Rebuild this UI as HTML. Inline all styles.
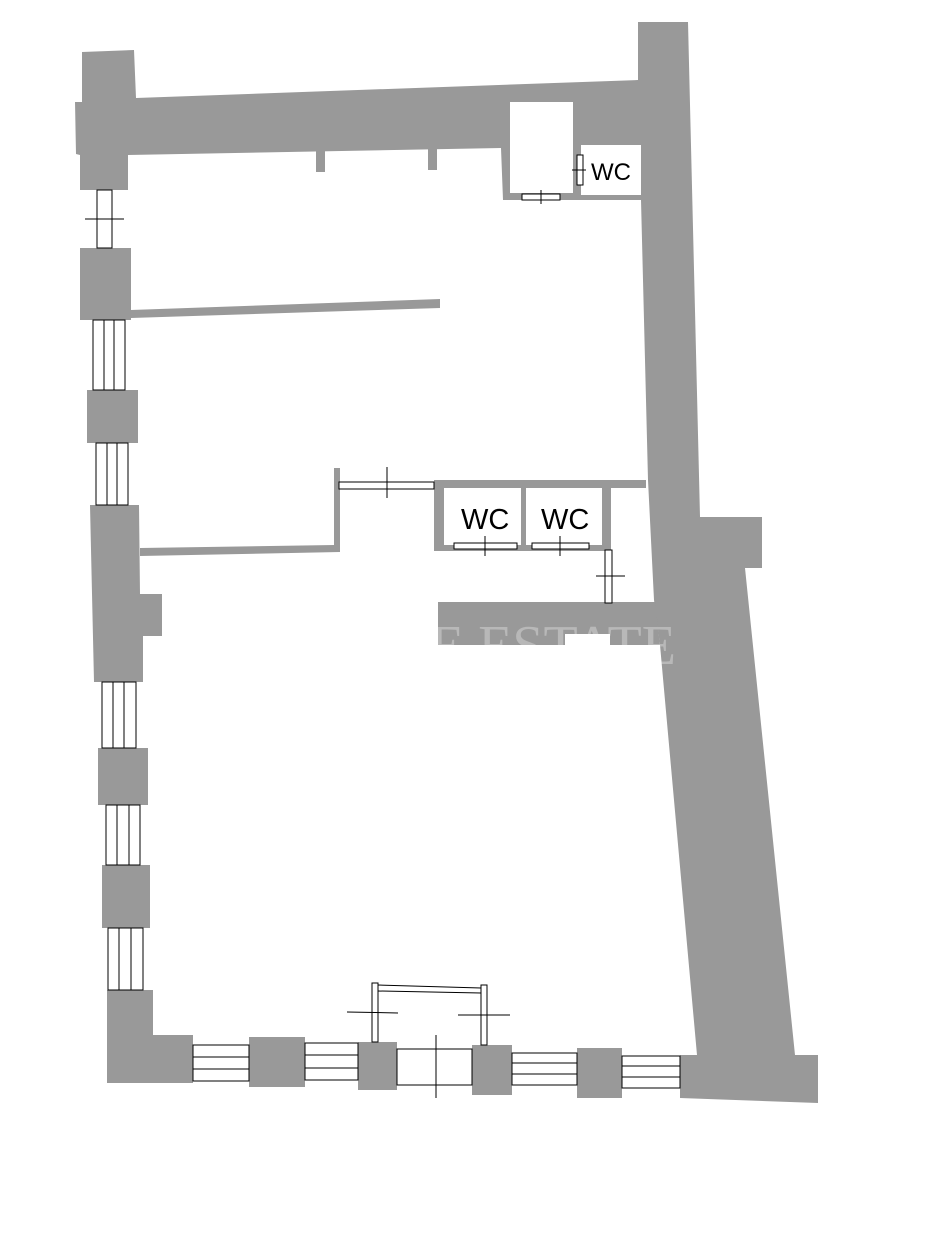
<!DOCTYPE html>
<html><head><style>html,body{margin:0;padding:0;background:#fff}svg{display:block}</style></head>
<body>
<svg width="943" height="1250" viewBox="0 0 943 1250" xmlns="http://www.w3.org/2000/svg">
<g fill="#999999">
<polygon points="82,52 134,50 136,98 638,80 638,22 688,22 700,517 762,517 762,568 745,568 795,1055 818,1055 818,1103 680,1098 680,1055 697,1055 660,645 654,600 648,480 641,200 503,200 501,148 128,155 128,190 80,190 80,155 76,154 75,102 82,102"/>
<rect x="316" y="150" width="9" height="22"/>
<rect x="428" y="148" width="9" height="22"/>
<rect x="80" y="248" width="51" height="72"/>
<polygon points="131,310 440,299 440,308 131,318"/>
<rect x="87" y="390" width="51" height="53"/>
<polygon points="90,505 139,505 140,594 162,594 162,636 143,636 143,682 94,682"/>
<polygon points="140,548 334,545 334,468 340,468 340,552 140,556"/>
<rect x="98" y="748" width="50" height="57"/>
<rect x="102" y="865" width="48" height="63"/>
<polygon points="107,990 153,990 153,1035 193,1035 193,1083 107,1083"/>
<rect x="249" y="1037" width="56" height="50"/>
<rect x="358" y="1042" width="39" height="48"/>
<rect x="472" y="1045" width="40" height="50"/>
<rect x="577" y="1048" width="45" height="50"/>
<rect x="434" y="480" width="212" height="8"/>
<rect x="434" y="480" width="10" height="71"/>
<rect x="434" y="545" width="177" height="6"/>
<rect x="521" y="488" width="5" height="60"/>
<rect x="602" y="488" width="9" height="63"/>
<polygon points="438,602 655,602 660,645 610,645 610,634 565,634 565,645 438,645"/>
</g>
<rect x="510" y="102" width="63" height="91" fill="#fff"/>
<rect x="581" y="145" width="60" height="50" fill="#fff"/>
<text x="591" y="180" font-family="Liberation Sans, sans-serif" font-size="24" fill="#000">WC</text>
<text x="461" y="529" font-family="Liberation Sans, sans-serif" font-size="29" fill="#000">WC</text>
<text x="541" y="529" font-family="Liberation Sans, sans-serif" font-size="29" fill="#000">WC</text>
<text x="430" y="664" font-family="Liberation Serif, serif" font-size="56" fill="#ffffff" opacity="0.3">E ESTATE</text>
<g fill="#fff" stroke="#000" stroke-width="1">
<rect x="522" y="194" width="38" height="6"/>
<rect x="577" y="155" width="6" height="30"/>
<rect x="339" y="482" width="95" height="7"/>
<rect x="454" y="543" width="63" height="6"/>
<rect x="532" y="543" width="57" height="6"/>
<rect x="605" y="550" width="7" height="53"/>
<rect x="97" y="190" width="15" height="58"/>
<rect x="93" y="320" width="32" height="70"/>
<rect x="96" y="443" width="32" height="62"/>
<rect x="102" y="682" width="34" height="66"/>
<rect x="106" y="805" width="34" height="60"/>
<rect x="108" y="928" width="35" height="62"/>
<rect x="193" y="1045" width="56" height="36"/>
<rect x="305" y="1043" width="53" height="37"/>
<rect x="397" y="1049" width="75" height="36"/>
<rect x="512" y="1053" width="65" height="32"/>
<rect x="622" y="1056" width="58" height="32"/>
<rect x="372" y="983" width="6" height="59"/>
<rect x="481" y="985" width="6" height="60"/>
</g>
<g stroke="#000" stroke-width="1" fill="none">
<line x1="378" y1="985" x2="481" y2="988"/>
<line x1="378" y1="991" x2="481" y2="993"/>
<line x1="85" y1="219" x2="124" y2="219"/>
<line x1="104" y1="320" x2="104" y2="390"/><line x1="114" y1="320" x2="114" y2="390"/>
<line x1="107" y1="443" x2="107" y2="505"/><line x1="117" y1="443" x2="117" y2="505"/>
<line x1="113" y1="682" x2="113" y2="748"/><line x1="124" y1="682" x2="124" y2="748"/>
<line x1="117" y1="805" x2="117" y2="865"/><line x1="129" y1="805" x2="129" y2="865"/>
<line x1="119" y1="928" x2="119" y2="990"/><line x1="131" y1="928" x2="131" y2="990"/>
<line x1="193" y1="1057" x2="249" y2="1057"/><line x1="193" y1="1069" x2="249" y2="1069"/>
<line x1="305" y1="1055" x2="358" y2="1055"/><line x1="305" y1="1068" x2="358" y2="1068"/>
<line x1="512" y1="1063" x2="577" y2="1063"/><line x1="512" y1="1074" x2="577" y2="1074"/>
<line x1="622" y1="1066" x2="680" y2="1066"/><line x1="622" y1="1077" x2="680" y2="1077"/>
<line x1="436" y1="1035" x2="436" y2="1098"/>
<line x1="347" y1="1012" x2="398" y2="1013"/>
<line x1="458" y1="1015" x2="510" y2="1015"/>
<line x1="387" y1="467" x2="387" y2="498"/>
<line x1="485" y1="536" x2="485" y2="556"/>
<line x1="560" y1="536" x2="560" y2="556"/>
<line x1="596" y1="576" x2="625" y2="576"/>
<line x1="541" y1="190" x2="541" y2="204"/>
<line x1="572" y1="170" x2="586" y2="170"/>
</g>
</svg>
</body></html>
